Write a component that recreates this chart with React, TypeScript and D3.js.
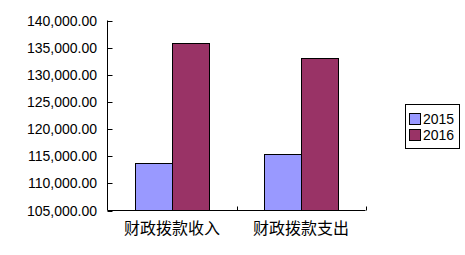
import React from "react";
import * as d3 from "d3";

const categories = ["财政拨款收入", "财政拨款支出"];
const seriesNames = ["2015", "2016"];
const values2015 = [113800, 115500];
const values2016 = [135900, 133050];
const yTicks = [105000, 110000, 115000, 120000, 125000, 130000, 135000, 140000];
const colors = ["#9999FF", "#993366"];

export default function App() {
  const W = 465, H = 255;
  const left = 107.5, right = 365.5, top = 20.5, bottom = 210.5;
  const x = d3.scaleBand().domain(categories).range([left, right]);
  const y = d3.scaleLinear().domain([105000, 140000]).range([bottom, top]);
  const inner = d3.scaleBand().domain(seriesNames).range([0, 74]);
  const series = [values2015, values2016];
  const fmt = d3.format(",.2f");
  return (
    <svg width={W} height={H} style={{ position: "absolute", left: 0, top: 0, background: "#fff" }}>
      {categories.map((c, i) =>
        series.map((vals, s) => {
          const bx = Math.round(x(c)! + x.bandwidth() / 2 - 37 + inner(seriesNames[s])!) + 0.5;
          const by = Math.round(y(vals[i])) + 0.5;
          return (
            <rect key={c + s} x={bx} y={by} width={37} height={bottom - by}
              fill={colors[s]} stroke="#000" strokeWidth={1} />
          );
        })
      )}
      <line x1={left} x2={left} y1={top} y2={bottom} stroke="#000" />
      <line x1={left} x2={right} y1={bottom} y2={bottom} stroke="#000" />
      {yTicks.map((t) => (
        <g key={t}>
          <line x1={left} x2={left + 5} y1={Math.round(y(t)) + 0.5} y2={Math.round(y(t)) + 0.5} stroke="#000" />
          <text x={97} y={y(t) + 5} textAnchor="end" fontFamily="Liberation Sans, Arial, sans-serif" fontSize={14} fill="#000">
            {fmt(t)}
          </text>
        </g>
      ))}
      {categories.map((c, i) => (
        <g key={c}>
          <line x1={Math.round(x(c)! + x.bandwidth()) + 0.5} x2={Math.round(x(c)! + x.bandwidth()) + 0.5}
            y1={bottom} y2={bottom - 4} stroke="#000" />
          <text x={x(c)! + x.bandwidth() / 2} y={234} textAnchor="middle"
            fontFamily="Noto Sans CJK SC, sans-serif" fontSize={16} fill="#000">{c}</text>
        </g>
      ))}
      <rect x={405.5} y={104.5} width={54} height={44} fill="#fff" stroke="#000" />
      {seriesNames.map((s, i) => (
        <g key={s}>
          <rect x={409.5} y={113.5 + i * 16} width={11} height={11} fill={colors[i]} stroke="#000" />
          <text x={423} y={124 + i * 16} fontFamily="Liberation Sans, Arial, sans-serif" fontSize={14} fill="#000">{s}</text>
        </g>
      ))}
    </svg>
  );
}
